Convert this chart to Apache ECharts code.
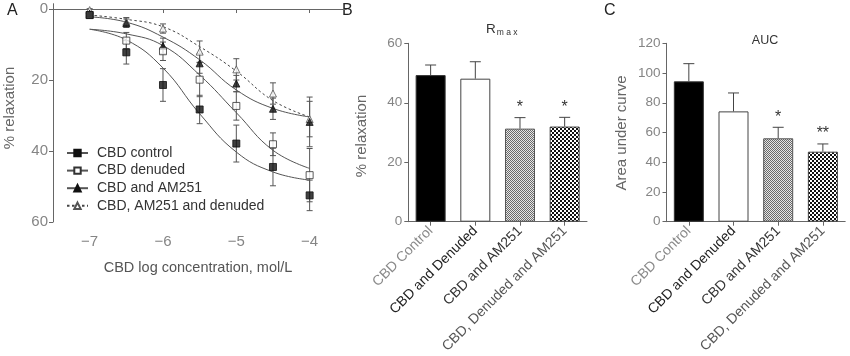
<!DOCTYPE html>
<html>
<head>
<meta charset="utf-8">
<script src="https://cdn.jsdelivr.net/npm/echarts@6/dist/echarts.min.js"></script>
<style>
html,body{margin:0;padding:0;background:#fff;}
#chart{width:850px;height:356px;}
</style>
</head>
<body>
<div id="chart"></div>
<script>
// ---------- DATA ----------
const concentrations = [-7, -6.5, -6, -5.5, -5, -4.5, -4];
const ctrlMean  = [1.7, 12.2, 21.4, 28.3, 37.9, 44.5, 52.5];
const ctrlSem   = [0.4, 3.3, 4.6, 4.0, 5.2, 5.3, 4.3];
const denMean   = [1.7, 8.9, 11.9, 19.9, 27.3, 38.1, 46.8];
const denSem    = [0.4, 2.3, 2.6, 4.8, 4.0, 3.2, 7.5];
const amMean    = [1.3, 4.0, 10.4, 15.3, 21.0, 28.1, 31.8];
const amSem     = [0.4, 1.2, 2.2, 2.8, 2.3, 3.0, 7.0];
const amDenMean = [0.3, 3.6, 5.5, 12.0, 17.0, 23.8, 31.0];
const amDenSem  = [0.4, 1.2, 1.3, 3.0, 3.0, 3.0, 5.0];

// fitted curves
const fitX      = [-7, -6.5, -6, -5.5, -5, -4.5, -4];
const ctrlFit   = [5.7, 8.7, 16.6, 29.5, 40.3, 45.9, 48.2];
const denFit    = [5.7, 7.0, 10.3, 18.6, 29.2, 39.8, 44.9];
const amFit     = [2.2, 3.7, 7.9, 14.3, 22.8, 28.0, 30.4];
const amDenFit  = [1.7, 2.9, 5.0, 10.6, 17.5, 25.8, 30.4];

const seriesNames = ['CBD control', 'CBD denuded', 'CBD and AM251', 'CBD, AM251 and denuded'];

const groupLabels = ['CBD Control', 'CBD and Denuded', 'CBD and AM251', 'CBD, Denuded and AM251'];
const rmaxMean = [49.3, 48.1, 31.3, 32.0];
const rmaxSem  = [3.4, 5.7, 3.7, 3.1];
const rmaxSig  = ['', '', '*', '*'];
const aucMean  = [94.4, 74.2, 56.1, 47.1];
const aucSem   = [11.9, 12.4, 7.4, 5.2];
const aucSig   = ['', '', '*', '**'];

const aTicksX = [-7, -6, -5, -4];
const aTicksY = [0, 20, 40, 60];

// ---------- STYLE HELPERS ----------
const FONT = '"Liberation Sans", Arial, Helvetica, sans-serif';
const AXIS = '#666';
const TICKLBL = '#858585';

function makePattern(size, cells, bg, fg) {
  const c = document.createElement('canvas');
  c.width = size; c.height = size;
  const ctx = c.getContext('2d');
  ctx.fillStyle = bg; ctx.fillRect(0, 0, size, size);
  ctx.fillStyle = fg;
  cells.forEach(r => ctx.fillRect(r[0], r[1], r[2], r[3]));
  return c;
}
const fineDots = makePattern(2, [[0,0,1,1],[1,1,1,1]], '#e6e6e6', '#6a6a6a');
const checker  = makePattern(4, [[0,0,2,2],[2,2,2,2]], '#ffffff', '#111111');

const barStyles = [
  {color: '#000', borderColor: '#333', borderWidth: 1},
  {color: '#fff', borderColor: '#444', borderWidth: 1},
  {color: {image: fineDots, repeat: 'repeat'}, borderColor: '#555', borderWidth: 1},
  {color: {image: checker, repeat: 'repeat'}, borderColor: '#444', borderWidth: 1}
];
const catColors = ['#8a8a8a', '#222', '#333', '#555'];

function pts(xs, ys) { return xs.map((x, i) => [x, ys[i]]); }
function errPts(xs, m, e) { return xs.map((x, i) => [x, m[i], e[i]]); }

const symbolDefs = [
  {symbol: 'rect', size: 7, item: {color: '#111', borderColor: '#111', borderWidth: 1}},
  {symbol: 'rect', size: 7, item: {color: '#fff', borderColor: '#333', borderWidth: 1}},
  {symbol: 'triangle', size: 7, item: {color: '#111', borderColor: '#111', borderWidth: 1}},
  {symbol: 'triangle', size: 7, item: {color: '#fff', borderColor: '#555', borderWidth: 1}}
];
const means = [ctrlMean, denMean, amMean, amDenMean];
const sems = [ctrlSem, denSem, amSem, amDenSem];
const fits = [ctrlFit, denFit, amFit, amDenFit];

function xyErrorRender(params, api) {
  const x = api.value(0), m = api.value(1), e = api.value(2);
  const top = api.coord([x, m - e]);
  const bot = api.coord([x, m + e]);
  const s = {stroke: '#555', lineWidth: 1};
  return {type: 'group', children: [
    {type: 'line', shape: {x1: top[0], y1: top[1], x2: bot[0], y2: bot[1]}, style: s},
    {type: 'line', shape: {x1: top[0] - 3, y1: top[1], x2: top[0] + 3, y2: top[1]}, style: s},
    {type: 'line', shape: {x1: bot[0] - 3, y1: bot[1], x2: bot[0] + 3, y2: bot[1]}, style: s}
  ]};
}

function barErrorRender(sig) {
  return function (params, api) {
    const i = api.value(0), m = api.value(1), e = api.value(2);
    const base = api.coord([i, m]);
    const cap = api.coord([i, m + e]);
    const s = {stroke: '#444', lineWidth: 1};
    const children = [
      {type: 'line', shape: {x1: base[0], y1: base[1], x2: cap[0], y2: cap[1]}, style: s},
      {type: 'line', shape: {x1: cap[0] - 5.5, y1: cap[1], x2: cap[0] + 5.5, y2: cap[1]}, style: s}
    ];
    const t = sig[params.dataIndex];
    if (t) {
      children.push({type: 'text', x: cap[0], y: cap[1] - 2,
        style: {text: t, fill: '#333', font: '16px ' + FONT, align: 'center', verticalAlign: 'bottom'}});
    }
    return {type: 'group', children: children};
  };
}

const series = [];
// Panel A curves (legend series)
for (let k = 0; k < 4; k++) {
  series.push({
    name: seriesNames[k], type: 'line', xAxisIndex: 0, yAxisIndex: 0,
    data: pts(fitX, fits[k]), smooth: 0.45, showSymbol: false,
    symbol: symbolDefs[k].symbol, symbolSize: symbolDefs[k].size,
    itemStyle: symbolDefs[k].item,
    lineStyle: {color: k === 3 ? '#444' : '#555', width: 1, type: k === 3 ? [2.5, 2.5] : 'solid'},
    z: 2, silent: true, animation: false
  });
}
// Panel A error bars
for (let k = 0; k < 4; k++) {
  series.push({
    name: 'err' + k, type: 'custom', xAxisIndex: 0, yAxisIndex: 0,
    data: errPts(concentrations, means[k], sems[k]),
    encode: {x: 0, y: [1]}, renderItem: xyErrorRender, z: 3, silent: true, animation: false
  });
}
// Panel A points (draw order so filled squares on top)
[3, 2, 1, 0].forEach(k => {
  series.push({
    name: 'pts' + k, type: 'scatter', xAxisIndex: 0, yAxisIndex: 0,
    data: pts(concentrations, means[k]),
    symbol: symbolDefs[k].symbol, symbolSize: symbolDefs[k].size,
    itemStyle: symbolDefs[k].item, z: 4, silent: true, animation: false
  });
});
// Panel B
series.push({
  name: 'rmax', type: 'bar', xAxisIndex: 1, yAxisIndex: 1, barWidth: 30,
  data: rmaxMean.map((v, i) => ({value: v, itemStyle: barStyles[i]})),
  silent: true, animation: false
});
series.push({
  name: 'rmaxErr', type: 'custom', xAxisIndex: 1, yAxisIndex: 1,
  data: rmaxMean.map((v, i) => [i, v, rmaxSem[i]]),
  encode: {x: 0, y: [1]}, renderItem: barErrorRender(rmaxSig), z: 5, silent: true, animation: false
});
// Panel C
series.push({
  name: 'auc', type: 'bar', xAxisIndex: 2, yAxisIndex: 2, barWidth: 30,
  data: aucMean.map((v, i) => ({value: v, itemStyle: barStyles[i]})),
  silent: true, animation: false
});
series.push({
  name: 'aucErr', type: 'custom', xAxisIndex: 2, yAxisIndex: 2,
  data: aucMean.map((v, i) => [i, v, aucSem[i]]),
  encode: {x: 0, y: [1]}, renderItem: barErrorRender(aucSig), z: 5, silent: true, animation: false
});

const axisLine = {show: true, lineStyle: {color: AXIS, width: 1}};
const axisTick = {show: true, inside: false, length: 4, lineStyle: {color: AXIS}};
const lblA = {color: TICKLBL, fontSize: 15, fontFamily: FONT};
const lblB = {color: TICKLBL, fontSize: 13.5, fontFamily: FONT};

const catRich = {};
catColors.forEach((c, i) => { catRich['c' + i] = {color: c, fontSize: 14, fontFamily: FONT}; });

const option = {
  animation: false,
  backgroundColor: '#fff',
  textStyle: {fontFamily: FONT},
  grid: [
    {left: 53, top: 3.7, width: 293.3, height: 218.3, containLabel: false},
    {left: 408.3, top: 43.3, width: 178.7, height: 178.4},
    {left: 666.5, top: 43.3, width: 178.7, height: 178.4}
  ],
  xAxis: [
    {gridIndex: 0, type: 'value', min: -7.5, max: -3.5,
     axisLine: axisLine, splitLine: {show: false},
     axisTick: Object.assign({}, axisTick, {customValues: aTicksX}),
     axisLabel: Object.assign({}, lblA, {customValues: aTicksX, margin: 12,
        formatter: v => String(v).replace('-', '\u2212')})},
    {gridIndex: 1, type: 'category', data: groupLabels,
     axisLine: axisLine, axisTick: Object.assign({}, axisTick, {alignWithLabel: true}),
     axisLabel: {rotate: 45, margin: 7, interval: 0,
        formatter: (v, i) => '{c' + i + '|' + v + '}', rich: catRich}},
    {gridIndex: 2, type: 'category', data: groupLabels,
     axisLine: axisLine, axisTick: Object.assign({}, axisTick, {alignWithLabel: true}),
     axisLabel: {rotate: 45, margin: 7, interval: 0,
        formatter: (v, i) => '{c' + i + '|' + v + '}', rich: catRich}}
  ],
  yAxis: [
    {gridIndex: 0, type: 'value', inverse: true, min: -1.5, max: 60,
     axisLine: axisLine, splitLine: {show: false},
     axisTick: Object.assign({}, axisTick, {customValues: aTicksY}),
     axisLabel: Object.assign({}, lblA, {customValues: aTicksY, margin: 5})},
    {gridIndex: 1, type: 'value', min: 0, max: 60, interval: 20,
     axisLine: axisLine, splitLine: {show: false}, axisTick: axisTick,
     axisLabel: Object.assign({}, lblB, {margin: 6})},
    {gridIndex: 2, type: 'value', min: 0, max: 120, interval: 20,
     axisLine: axisLine, splitLine: {show: false}, axisTick: axisTick,
     axisLabel: Object.assign({}, lblB, {margin: 6})}
  ],
  legend: {
    data: seriesNames, orient: 'vertical', left: 66, top: 146, padding: 0,
    itemWidth: 21, itemHeight: 8, itemGap: 3.6, selectedMode: false,
    textStyle: {color: '#333', fontSize: 14, fontFamily: FONT, lineHeight: 14, padding: [0, 0, 0, 4]}
  },
  graphic: [
    {type: 'text', left: 7, top: 3, style: {text: 'A', font: '16px ' + FONT, fill: '#222'}},
    {type: 'text', left: 342, top: 3, style: {text: 'B', font: '16px ' + FONT, fill: '#222'}},
    {type: 'text', left: 604, top: 3, style: {text: 'C', font: '16px ' + FONT, fill: '#222'}},
    {type: 'text', x: 10, y: 108, rotation: Math.PI / 2,
     style: {text: '% relaxation', font: '15px ' + FONT, fill: '#666', align: 'center', verticalAlign: 'middle'}},
    {type: 'text', x: 362, y: 136, rotation: Math.PI / 2,
     style: {text: '% relaxation', font: '15px ' + FONT, fill: '#666', align: 'center', verticalAlign: 'middle'}},
    {type: 'text', x: 622, y: 133, rotation: Math.PI / 2,
     style: {text: 'Area under curve', font: '15px ' + FONT, fill: '#666', align: 'center', verticalAlign: 'middle'}},
    {type: 'text', x: 198, y: 268,
     style: {text: 'CBD log concentration, mol/L', font: '14.5px ' + FONT, fill: '#555', align: 'center', verticalAlign: 'middle'}},
    {type: 'text', x: 486, y: 22,
     style: {text: '{r|R}{s|m a x}', rich: {
        r: {fontSize: 13.5, fontFamily: FONT, fill: '#333', color: '#333'},
        s: {fontSize: 8.5, fontFamily: FONT, fill: '#333', color: '#333', padding: [6, 0, 0, 1]}}}},
    {type: 'text', x: 765, y: 41,
     style: {text: 'AUC', font: '12.5px ' + FONT, fill: '#333', align: 'center', verticalAlign: 'middle'}}
  ],
  series: series
};

const chart = echarts.init(document.getElementById('chart'), null, {renderer: 'canvas'});
chart.setOption(option);
</script>
</body>
</html>
